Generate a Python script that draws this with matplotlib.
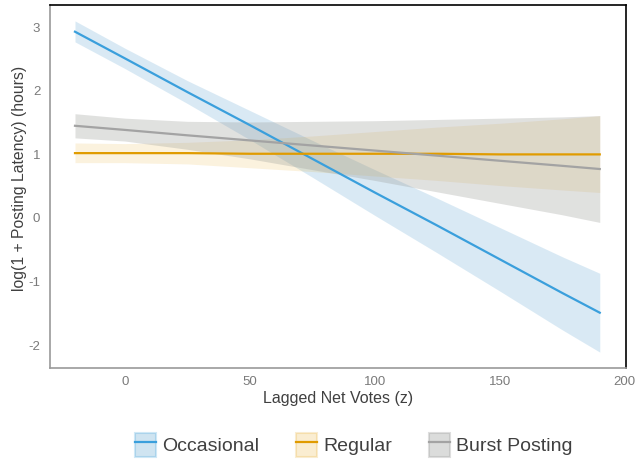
import numpy as np
import matplotlib.pyplot as plt
from matplotlib.patches import Patch
from matplotlib.lines import Line2D

plt.rcParams['font.family'] = ['Liberation Sans', 'DejaVu Sans']
plt.rcParams['axes.unicode_minus'] = False

# wartosci
votes = [-20, 0, 25, 50, 75, 100, 125, 150, 175, 190]

occ_fit = [2.93, 2.51, 1.98, 1.46, 0.93, 0.40, -0.12, -0.65, -1.18, -1.49]
occ_lo = [2.77, 2.35, 1.80, 1.23, 0.64, 0.04, -0.55, -1.15, -1.76, -2.11]
occ_hi = [3.10, 2.67, 2.16, 1.69, 1.22, 0.76, 0.31, -0.15, -0.61, -0.87]

reg_fit = [1.02, 1.02, 1.02, 1.01, 1.01, 1.01, 1.01, 1.00, 1.00, 1.00]
reg_lo = [0.87, 0.87, 0.85, 0.79, 0.73, 0.66, 0.59, 0.51, 0.44, 0.40]
reg_hi = [1.18, 1.17, 1.19, 1.23, 1.29, 1.36, 1.43, 1.49, 1.56, 1.61]

bur_fit = [1.45, 1.385, 1.30, 1.22, 1.14, 1.06, 0.98, 0.90, 0.82, 0.77]
bur_lo = [1.26, 1.21, 1.08, 0.93, 0.76, 0.59, 0.41, 0.23, 0.05, -0.07]
bur_hi = [1.64, 1.57, 1.52, 1.51, 1.52, 1.53, 1.55, 1.57, 1.59, 1.61]

labels = ["Occasional", "Regular", "Burst Posting"]
line_colors = ["#3a9fdc", "#e09b00", "#a3a3a3"]
band_colors = ["#3a8fc8", "#e69f00", "#9a9c98"]
band_alpha = [0.19, 0.13, 0.3]

fig = plt.figure(figsize=(6.35, 4.62), dpi=100)
ax = fig.add_axes([50/635, 1 - 368/462, 576/635, 363/462])

series = [(occ_fit, occ_lo, occ_hi), (reg_fit, reg_lo, reg_hi), (bur_fit, bur_lo, bur_hi)]
for i, (fit, lo, hi) in enumerate(series):
    ax.fill_between(votes, lo, hi, color=band_colors[i], alpha=band_alpha[i], linewidth=0)
for i, (fit, lo, hi) in enumerate(series):
    ax.plot(votes, fit, color=line_colors[i], linewidth=1.6)

ax.set_xlim(-30, 200.5)
ax.set_ylim(-2.36, 3.35)
ax.set_xticks([0, 50, 100, 150, 200])
ax.set_yticks([-2, -1, 0, 1, 2, 3])
ax.tick_params(length=0, labelsize=9.5, labelcolor="#7a7a7a")
ax.tick_params(axis='y', pad=7)
ax.tick_params(axis='x', pad=6)

ax.spines['left'].set_color("#9a9a9a")
ax.spines['bottom'].set_color("#9a9a9a")
ax.spines['top'].set_color("black")
ax.spines['right'].set_color("black")
for s in ax.spines.values():
    s.set_linewidth(1.2)

ax.set_xlabel("Lagged Net Votes (z)", fontsize=11.5, color="#404040", labelpad=2)
ax.set_ylabel("log(1 + Posting Latency) (hours)", fontsize=11.3, color="#404040",
              va='center')
ax.yaxis.set_label_coords((20 - 50) / 576, (368 - 178) / 363)

handles = []
for i in range(3):
    handles.append((Patch(facecolor=band_colors[i], alpha=band_alpha[i] + 0.05,
                          edgecolor=line_colors[i], linewidth=1.5),
                    Line2D([], [], color=line_colors[i], linewidth=1.6)))
fig.legend(handles, labels, loc="center", bbox_to_anchor=(0.557, 1 - 445/462), ncol=3,
           frameon=False, fontsize=14, handlelength=1.1, handleheight=1.45,
           handletextpad=0.3, columnspacing=1.9, labelcolor="#404040")

fig.savefig("out.png", dpi=100)
